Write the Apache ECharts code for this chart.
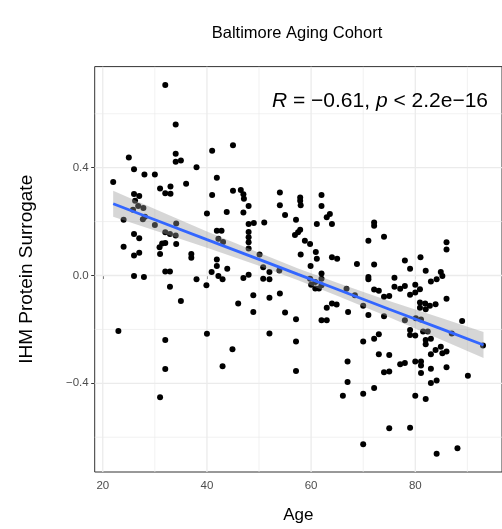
<!DOCTYPE html>
<html>
<head>
<meta charset="utf-8">
<script src="https://cdn.jsdelivr.net/npm/echarts@6/dist/echarts.min.js"></script>
<style>
  html, body { margin: 0; padding: 0; background: #ffffff; }
  #chart { width: 502px; height: 529px; }
</style>
</head>
<body>
<div id="chart"></div>
<script>
// Participant ages (years) and protein surrogate scores
const ages = [
  32.0, 34.0, 34.0, 34.0, 35.0, 25.0, 26.0, 28.0, 30.0, 22.0,
  31.0, 33.0, 32.0, 33.0, 36.0, 38.0, 41.0, 41.9, 26.0, 27.0,
  41.0, 45.0, 45.0, 46.5, 47.0, 54.0, 57.9, 62.0, 40.0, 43.8,
  25.8, 27.8, 28.1, 24.0, 34.1, 30.0, 32.0, 32.9, 34.0, 41.9,
  42.8, 42.2, 43.1, 26.0, 27.0, 24.0, 31.4, 32.0, 34.1, 31.0,
  26.0, 27.0, 37.0, 37.0, 41.9, 41.9, 40.9, 42.2, 43.0, 43.9,
  32.0, 32.9, 26.0, 27.9, 32.9, 38.0, 39.9, 35.0, 26.2, 26.8,
  27.7, 30.9, 47.1, 48.0, 47.0, 54.0, 57.9, 58.0, 62.0, 63.6,
  63.0, 55.0, 57.1, 61.1, 64.0, 48.0, 49.0, 48.0, 48.0, 48.0,
  48.0, 51.0, 57.9, 57.5, 56.9, 58.8, 59.8, 58.0, 60.9, 61.1,
  64.0, 65.0, 68.8, 50.1, 47.0, 48.0, 50.8, 52.0, 50.8, 52.0,
  53.9, 59.9, 59.8, 60.8, 62.0, 62.0, 62.0, 61.5, 60.8, 60.0,
  66.8, 48.9, 52.0, 54.0, 46.0, 48.9, 55.0, 57.1, 63.0, 64.0,
  64.9, 67.1, 62.0, 63.0, 52.0, 57.1, 44.9, 43.0, 57.1, 67.0,
  67.0, 66.1, 23.0, 32.0, 40.0, 32.0, 31.0, 72.1, 72.1, 71.0,
  74.0, 86.0, 86.0, 72.1, 78.0, 81.0, 79.0, 82.0, 71.0, 71.0,
  76.0, 84.9, 85.2, 84.1, 83.0, 72.1, 73.0, 76.0, 77.1, 78.0,
  80.0, 80.9, 80.0, 79.0, 74.0, 75.0, 86.0, 68.4, 70.0, 80.9,
  81.9, 80.9, 82.0, 82.8, 83.9, 71.0, 74.0, 78.0, 89.0, 80.1,
  81.1, 79.0, 79.0, 80.0, 81.5, 82.4, 82.0, 82.0, 83.0, 87.0,
  93.0, 70.0, 72.1, 73.0, 83.9, 84.9, 85.2, 86.0, 83.0, 73.0,
  75.0, 77.1, 78.0, 80.0, 81.1, 81.1, 74.0, 75.0, 83.0, 81.1,
  86.0, 90.1, 83.0, 84.1, 72.1, 70.0, 80.0, 82.0, 75.0, 79.0,
  70.0, 84.1, 88.1
];
const surrogate = [
  0.707, 0.560, 0.452, 0.422, 0.427, 0.438, 0.394, 0.375, 0.375, 0.347,
  0.323, 0.330, 0.305, 0.303, 0.340, 0.402, 0.463, 0.363, 0.302, 0.295,
  0.299, 0.483, 0.314, 0.317, 0.301, 0.308, 0.289, 0.299, 0.230, 0.236,
  0.244, 0.250, 0.218, 0.207, 0.193, 0.187, 0.160, 0.154, 0.148, 0.166,
  0.166, 0.136, 0.124, 0.154, 0.138, 0.107, 0.119, 0.121, 0.117, 0.080,
  0.074, 0.084, 0.080, 0.066, 0.059, 0.035, 0.013, -0.002, -0.014, 0.025,
  0.015, 0.015, -0.002, -0.006, -0.042, -0.014, -0.036, -0.095, 0.277, 0.258,
  0.209, 0.105, 0.285, 0.258, 0.234, 0.261, 0.277, 0.261, 0.258, 0.228,
  0.216, 0.224, 0.207, 0.191, 0.191, 0.191, 0.195, 0.161, 0.142, 0.123,
  0.100, 0.197, 0.170, 0.160, 0.150, 0.129, 0.117, 0.078, 0.087, 0.062,
  0.068, 0.062, 0.043, 0.078, -0.009, 0.003, 0.031, 0.013, -0.012, -0.014,
  0.019, 0.035, -0.012, -0.024, 0.007, -0.012, -0.036, -0.048, -0.048, -0.034,
  -0.049, -0.073, -0.083, -0.067, -0.104, -0.135, -0.137, -0.162, -0.120, -0.104,
  -0.108, -0.135, -0.166, -0.166, -0.215, -0.245, -0.274, -0.337, -0.354, -0.319,
  -0.395, -0.446, -0.206, -0.239, -0.216, -0.347, -0.452, 0.197, 0.185, 0.129,
  0.144, 0.123, 0.096, 0.041, 0.056, 0.068, 0.025, 0.018, -0.006, -0.014,
  -0.008, 0.013, -0.002, -0.014, -0.022, -0.052, -0.057, -0.042, -0.049, -0.039,
  -0.034, -0.051, -0.063, -0.071, -0.079, -0.076, -0.086, -0.073, -0.112, -0.100,
  -0.104, -0.120, -0.125, -0.112, -0.107, -0.147, -0.151, -0.166, -0.169, -0.159,
  -0.163, -0.202, -0.221, -0.223, -0.208, -0.208, -0.239, -0.255, -0.235, -0.215,
  -0.260, -0.245, -0.235, -0.218, -0.276, -0.264, -0.288, -0.282, -0.292, -0.292,
  -0.295, -0.329, -0.325, -0.319, -0.319, -0.334, -0.359, -0.356, -0.346, -0.362,
  -0.340, -0.372, -0.399, -0.390, -0.417, -0.439, -0.446, -0.458, -0.567, -0.565,
  -0.626, -0.661, -0.641
];

// Linear fit and its 95% confidence band
const fitAge  = [22, 30, 40, 50, 57.5, 65, 75, 85, 93.1];
const fitMid  = [0.266, 0.207, 0.133, 0.060, 0.004, -0.051, -0.125, -0.198, -0.258];
const fitLow  = [0.218, 0.167, 0.103, 0.036, -0.018, -0.075, -0.155, -0.238, -0.306];
const fitHigh = [0.314, 0.247, 0.163, 0.084, 0.026, -0.027, -0.095, -0.158, -0.210];

// Axis breaks
const xMajor = [20, 40, 60, 80];
const xMinor = [30, 50, 70, 90];
const yMajor = [-0.4, 0, 0.4];
const yMinor = [-0.6, -0.2, 0.2, 0.6];

const chartTitle = 'Baltimore Aging Cohort';
const xTitle = 'Age';
const yTitle = 'IHM Protein Surrogate';

const FONT = '"Liberation Sans", Arial, Helvetica, sans-serif';
const GRID_COLOR = '#ebebeb';

const points = ages.map((a, i) => [a, surrogate[i]]);
const fitLine = fitAge.map((a, i) => [a, fitMid[i]]);
const bandData = fitAge.map((a, i) => [a, fitLow[i], fitHigh[i]]);

// one entry per panel grid line: [direction, value, isMajor]
const gridLineData = [].concat(
  yMinor.map(v => ['h', v, 0]),
  xMinor.map(v => ['v', v, 0]),
  yMajor.map(v => ['h', v, 1]),
  xMajor.map(v => ['v', v, 1])
);

const fmtNum = v => {
  const s = Number(v).toFixed(1);
  return s.charAt(0) === '-' ? '\u2212' + s.slice(1) : s;
};

const chart = echarts.init(document.getElementById('chart'), null, { renderer: 'canvas' });

chart.setOption({
  animation: false,
  backgroundColor: '#ffffff',
  textStyle: { fontFamily: FONT },
  grid: {
    left: 94.7,
    top: 66.6,
    right: 0,
    bottom: 54.5,
    show: true,
    backgroundColor: 'transparent',
    borderColor: '#333333',
    borderWidth: 1
  },
  xAxis: {
    type: 'value',
    min: 18.45,
    max: 96.65,
    name: xTitle,
    nameLocation: 'middle',
    nameGap: 35,
    nameTextStyle: { fontFamily: FONT, fontSize: 17, color: '#000000' },
    axisLine: { show: false },
    splitLine: { show: false },
    axisTick: { show: true, customValues: xMajor, length: 3.5, lineStyle: { color: '#333333', width: 1 } },
    axisLabel: { customValues: xMajor, margin: 8, fontSize: 11.5, color: '#4d4d4d', fontFamily: FONT }
  },
  yAxis: {
    type: 'value',
    min: -0.729,
    max: 0.775,
    name: yTitle,
    nameLocation: 'middle',
    nameGap: 58,
    nameTextStyle: { fontFamily: FONT, fontSize: 19, color: '#000000' },
    axisLine: { show: false },
    splitLine: { show: false },
    axisTick: { show: true, customValues: yMajor, length: 3.5, lineStyle: { color: '#333333', width: 1 } },
    axisLabel: { customValues: yMajor, margin: 6, fontSize: 11.5, color: '#4d4d4d', fontFamily: FONT, formatter: fmtNum }
  },
  series: [
    {
      name: 'grid lines',
      type: 'custom',
      z: 1,
      silent: true,
      clip: true,
      data: gridLineData,
      renderItem: function (params, api) {
        const d = gridLineData[params.dataIndex];
        const cs = params.coordSys;
        let p1, p2;
        if (d[0] === 'v') {
          const x = api.coord([d[1], 0])[0];
          p1 = [x, cs.y]; p2 = [x, cs.y + cs.height];
        } else {
          const y = api.coord([20, d[1]])[1];
          p1 = [cs.x, y]; p2 = [cs.x + cs.width, y];
        }
        return {
          type: 'line',
          shape: { x1: p1[0], y1: p1[1], x2: p2[0], y2: p2[1] },
          style: { stroke: GRID_COLOR, lineWidth: d[2] ? 1.3 : 0.7 }
        };
      }
    },
    {
      name: 'samples',
      type: 'scatter',
      z: 3,
      data: points,
      symbol: 'circle',
      symbolSize: 6,
      itemStyle: { color: '#000000', opacity: 1 }
    },
    {
      name: 'confidence band',
      type: 'custom',
      z: 4,
      data: bandData,
      encode: { x: 0, y: [1, 2] },
      silent: true,
      renderItem: function (params, api) {
        if (params.dataIndex !== 0) return null;
        const pts = [];
        for (let i = 0; i < fitAge.length; i++) pts.push(api.coord([fitAge[i], fitHigh[i]]));
        for (let i = fitAge.length - 1; i >= 0; i--) pts.push(api.coord([fitAge[i], fitLow[i]]));
        return {
          type: 'polygon',
          shape: { points: pts },
          style: { fill: '#999999', opacity: 0.4 }
        };
      }
    },
    {
      name: 'fit',
      type: 'line',
      z: 5,
      data: fitLine,
      showSymbol: false,
      silent: true,
      lineStyle: { color: '#3366ff', width: 2.8 }
    }
  ],
  graphic: [
    {
      type: 'text',
      z: 20,
      x: 297,
      y: 33,
      style: {
        text: chartTitle,
        font: '16.5px ' + FONT,
        fill: '#000000',
        align: 'center',
        verticalAlign: 'middle'
      }
    },
    {
      type: 'text',
      z: 20,
      right: 14,
      top: 91,
      style: {
        text: '{i|R} = \u22120.61, {i|p} < 2.2e\u221216',
        font: '21px ' + FONT,
        fill: '#000000',
        rich: {
          i: { fontStyle: 'italic', fontSize: 21, fontFamily: FONT, fill: '#000000' }
        }
      }
    }
  ]
});
</script>
</body>
</html>
